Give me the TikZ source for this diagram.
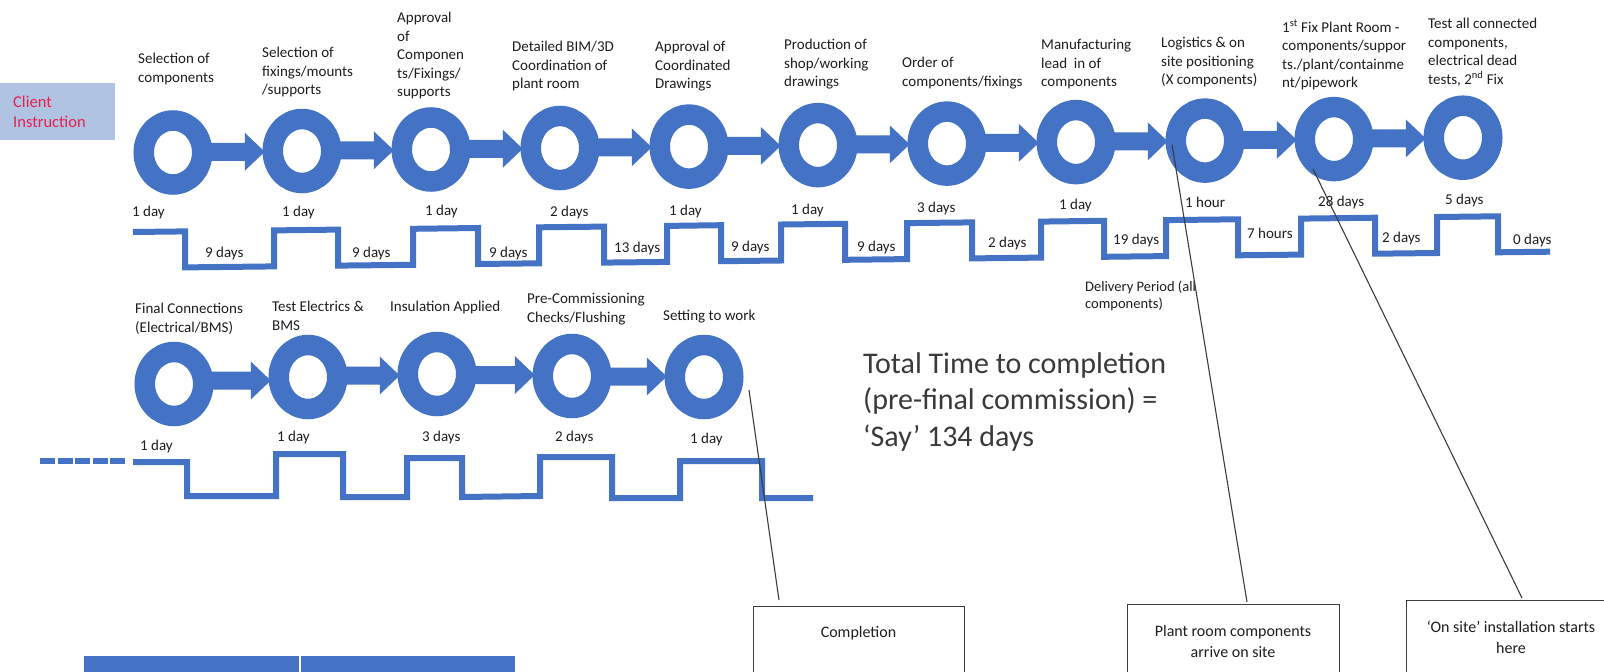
\documentclass[tikz,border=0pt]{standalone}
\usepackage{fontspec}
\setmainfont{Carlito}
\usetikzlibrary{shapes.geometric,calc}
\definecolor{ringblue}{HTML}{4472C4}
\definecolor{clientfill}{HTML}{B0C3E2}
\definecolor{clientred}{HTML}{E8204F}
\definecolor{txtcol}{HTML}{1E1E1E}
\definecolor{totcol}{HTML}{3A3A3A}
\definecolor{leadcol}{HTML}{3C3C3C}
\newcommand\lblfont{\fontsize{15pt}{18.5pt}\selectfont}
\newcommand\blockarrow[2]{%
  \fill[ringblue] let \p1=(#1.east), \p2=(#2.west), \n1={0.5*\y1+0.5*\y2} in
    (\x1,\n1+9pt) -- (\x2-28pt,\n1+9pt) -- (\x2-28pt,\n1+19pt) -- (\x2-8pt,\n1)
    -- (\x2-28pt,\n1-19pt) -- (\x2-28pt,\n1-9pt) -- (\x1,\n1-9pt) -- cycle;%
}
\tikzset{
  ringnode/.style={ellipse, draw=ringblue, fill=white, line width=20.5pt,
    minimum width=58.5pt, minimum height=64pt, inner sep=0pt, outer sep=0pt},
  lbl/.style={font=\lblfont, align=left, inner sep=0pt, anchor=north west, text=txtcol},
  dur/.style={font=\lblfont, inner sep=0pt, anchor=west, text=txtcol},
  stepline/.style={draw=ringblue, line width=6pt, line join=miter, line cap=butt},
  leader/.style={draw=leadcol, line width=1.1pt},
  calbox/.style={draw=leadcol, line width=1.3pt, fill=white, anchor=north west, inner sep=0pt},
  boxtxt/.style={font=\fontsize{16pt}{21pt}\selectfont, align=center, inner sep=0pt, text=txtcol},
  cellstyle/.style={fill=ringblue, inner sep=0pt, anchor=north west, draw=none}
}
\begin{document}
\begin{tikzpicture}[x=1pt,y=-1pt]
\path[use as bounding box] (0,0) rectangle (1604,672);
\clip (0,0) rectangle (1604,672);
\fill[white] (0,0) rectangle (1604,672);

% client instruction
\node[fill=clientfill, anchor=north west, minimum height=57pt, text width=89pt,
  inner xsep=13pt, inner ysep=0pt, align=left, font=\fontsize{16.5pt}{20pt}\selectfont,
  text=clientred] (client) at (0,83) {Client\\Instruction};

% row 1 captions
\node[lbl] (t1) at (138,53) {Selection of\\components};
\node[lbl] (t2) at (262,47) {Selection of\\fixings/mounts\\/supports};
\node[lbl] (t3) at (397,12) {Approval\\of\\Componen\\ts/Fixings/\\supports};
\node[lbl] (t4) at (512,41) {Detailed BIM/3D\\Coordination of\\plant room};
\node[lbl] (t5) at (655,41) {Approval of\\Coordinated\\Drawings};
\node[lbl] (t6) at (784,39) {Production of\\shop/working\\drawings};
\node[lbl] (t7) at (902,57) {Order of\\components/fixings};
\node[lbl] (t8) at (1041,39) {Manufacturing\\lead\ \ in of\\components};
\node[lbl] (t9) at (1161,37) {Logistics \& on\\site positioning\\(X components)};
\node[lbl] (t10) at (1282,20) {1\textsuperscript{st} Fix Plant Room -\\components/suppor\\ts./plant/containme\\nt/pipework};
\node[lbl] (t11) at (1428,18) {Test all connected\\components,\\electrical dead\\tests, 2\textsuperscript{nd} Fix};

% row 1 rings
\node[ringnode] (r1) at (173,152.5) {};
\node[ringnode] (r2) at (302,151.0) {};
\node[ringnode] (r3) at (431,149.5) {};
\node[ringnode] (r4) at (560,148.0) {};
\node[ringnode] (r5) at (689,146.6) {};
\node[ringnode] (r6) at (818,145.1) {};
\node[ringnode] (r7) at (947,143.6) {};
\node[ringnode] (r8) at (1076,142.1) {};
\node[ringnode] (r9) at (1205,140.6) {};
\node[ringnode] (r10) at (1334,139.1) {};
\node[ringnode] (r11) at (1463,137.7) {};
\blockarrow{r1}{r2}
\blockarrow{r2}{r3}
\blockarrow{r3}{r4}
\blockarrow{r4}{r5}
\blockarrow{r5}{r6}
\blockarrow{r6}{r7}
\blockarrow{r7}{r8}
\blockarrow{r8}{r9}
\blockarrow{r9}{r10}
\blockarrow{r10}{r11}

% row 1 step line
\draw[stepline] (133,232.0) -- (185,231.4) -- (185,267.4) -- (274,266.4) -- (274,230.4)
  -- (338,229.6) -- (338,265.6) -- (413,264.8) -- (413,228.8) -- (478,228.0)
  -- (478,264.0) -- (539,263.3) -- (539,227.3) -- (604,226.6) -- (604,262.6)
  -- (667,261.9) -- (667,225.9) -- (721,225.2) -- (721,261.2) -- (781,260.5)
  -- (781,224.5) -- (845,223.8) -- (845,259.8) -- (907,259.1) -- (907,223.1)
  -- (972,222.4) -- (972,258.4) -- (1041,257.6) -- (1041,221.6) -- (1104,220.8)
  -- (1104,256.8) -- (1166,256.1) -- (1166,220.1) -- (1238,219.3) -- (1238,255.3)
  -- (1301,254.6) -- (1301,218.6) -- (1375,217.7) -- (1375,253.7) -- (1437,253.0)
  -- (1437,217.0) -- (1498,216.3) -- (1498,252.3) -- (1550,251.7);

% row 1 durations
\node[dur] (a1) at (132,212) {1 day};
\node[dur] (a2) at (282,212) {1 day};
\node[dur] (a3) at (425,211) {1 day};
\node[dur] (a4) at (550,212) {2 days};
\node[dur] (a5) at (669,211) {1 day};
\node[dur] (a6) at (791,210) {1 day};
\node[dur] (a7) at (917,208) {3 days};
\node[dur] (a8) at (1059,205) {1 day};
\node[dur] (a9) at (1185,202) {1 hour};
\node[dur] (a10) at (1318,202) {28 days};
\node[dur] (a11) at (1445,200) {5 days};
\node[dur] (b1) at (205,253) {9 days};
\node[dur] (b2) at (352,253) {9 days};
\node[dur] (b3) at (489,253) {9 days};
\node[dur] (b4) at (614,248) {13 days};
\node[dur] (b5) at (731,247) {9 days};
\node[dur] (b6) at (857,247) {9 days};
\node[dur] (b7) at (988,243) {2 days};
\node[dur] (b8) at (1113,240) {19 days};
\node[dur] (b9) at (1247,233) {7 hours};
\node[dur] (b10) at (1382,238) {2 days};
\node[dur] (b11) at (1513,240) {0 days};

\node[lbl, font=\fontsize{14.5pt}{17pt}\selectfont] (dp) at (1085,281) {Delivery Period (all\\components)};

% row 2 captions
\node[lbl] (u1) at (135,303) {Final Connections\\(Electrical/BMS)};
\node[lbl] (u2) at (272,301) {Test Electrics \&\\BMS};
\node[lbl] (u3) at (390,301) {Insulation Applied};
\node[lbl] (u4) at (527,293) {Pre-Commissioning\\Checks/Flushing};
\node[lbl] (u5) at (663,310) {Setting to work};

% row 2 rings
\node[ringnode] (q1) at (174,384) {};
\node[ringnode] (q2) at (308,377) {};
\node[ringnode] (q3) at (437,374) {};
\node[ringnode] (q4) at (572,376) {};
\node[ringnode] (q5) at (704,377) {};
\blockarrow{q1}{q2}
\blockarrow{q2}{q3}
\blockarrow{q3}{q4}
\blockarrow{q4}{q5}

% row 2 step line
\draw[ringblue, line width=6pt, dash pattern=on 15pt off 2.5pt] (40,461) -- (126,461);
\draw[stepline] (133,462) -- (187,462) -- (187,496) -- (276,496) -- (276,454)
  -- (343,454) -- (343,497) -- (407,497) -- (407,458) -- (462,458) -- (462,497)
  -- (540,496) -- (540,457) -- (612,457) -- (612,498) -- (680,498) -- (680,461)
  -- (762,461) -- (762,498) -- (813,498);

\node[dur] (c1) at (140,446) {1 day};
\node[dur] (c2) at (277,437) {1 day};
\node[dur] (c3) at (422,437) {3 days};
\node[dur] (c4) at (555,437) {2 days};
\node[dur] (c5) at (690,439) {1 day};

% total
\node[lbl, font=\fontsize{30pt}{36.5pt}\selectfont, text=totcol] (tot) at (863,352)
  {Total Time to completion\\(pre-final commission) =\\‘Say’ 134 days};

% callout boxes
\node[calbox, minimum width=211pt, minimum height=120pt] (cbox) at (753,606) {};
\node[calbox, minimum width=212pt, minimum height=120pt] (pbox) at (1127,604) {};
\node[calbox, minimum width=212pt, minimum height=120pt] (obox) at (1406,600) {};
\node[boxtxt] (ctxt) at (858.5,633) {Completion};
\node[boxtxt] (ptxt) at (1233,641) {Plant room components\\arrive on site};
\node[boxtxt] (otxt) at (1511,637.5) {‘On site’ installation starts\\here};

% leaders
\coordinate (cend) at (779,600);
\coordinate (pend) at (1247,602);
\coordinate (oend) at (1522,598);
\draw[leader] ($(q5.center)+(45,13)$) -- (cend);
\draw[leader] ($(r9.center)+(-33,4)$) -- (pend);
\draw[leader] ($(r10.center)+(-21,30)$) -- (oend);

% bottom-left table header
\node[cellstyle, minimum width=215pt, minimum height=30pt] (cellA) at (84,656) {};
\node[cellstyle, minimum width=214pt, minimum height=30pt] (cellB) at (301,656) {};
\end{tikzpicture}
\end{document}
